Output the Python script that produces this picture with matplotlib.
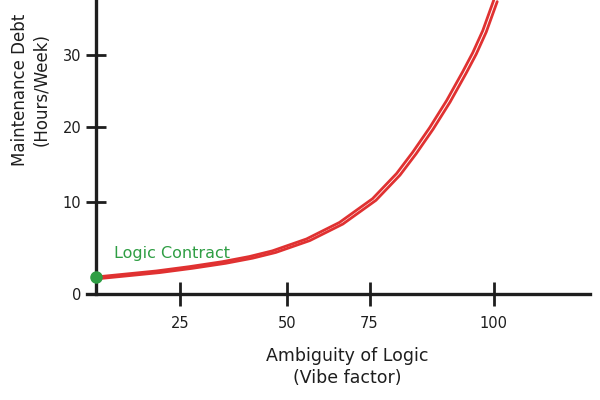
import numpy as np
import matplotlib
matplotlib.use("Agg")
import matplotlib.pyplot as plt
from matplotlib.transforms import ScaledTranslation

# ---- data ----
ambiguity = [0, 7.74, 17.86, 27.1, 34.81, 41.12, 46.5, 55.79, 65.85, 75.6, 80.44,
             83.67, 87.1, 90.52, 93.75, 95.77, 97.78, 100]
debt = [1.85, 2.13, 2.5, 2.97, 3.51, 4.07, 4.69, 5.98, 7.78, 10.44, 13.8,
        16.63, 19.92, 23.69, 27.69, 30.33, 33.39, 37.64]
x_ticks = [25, 50, 75, 100]
y_ticks = [0, 10, 20, 30]
contract_x, contract_y = 0, 1.85
contract_label = "Logic Contract"
x_title = "Ambiguity of Logic\n(Vibe factor)"
y_title = "Maintenance Debt\n(Hours/Week)"

# ---- hand-drawn axis spacing (piecewise linear scales) ----
def make_scale(knots_v, knots_p):
    kv = np.asarray(knots_v, float)
    kp = np.asarray(knots_p, float)

    def fwd(v):
        v = np.asarray(v, float)
        out = np.interp(v, kv, kp)
        lo = (kp[1] - kp[0]) / (kv[1] - kv[0])
        hi = (kp[-1] - kp[-2]) / (kv[-1] - kv[-2])
        out = np.where(v < kv[0], kp[0] + (v - kv[0]) * lo, out)
        out = np.where(v > kv[-1], kp[-1] + (v - kv[-1]) * hi, out)
        return out

    def inv(p):
        p = np.asarray(p, float)
        out = np.interp(p, kp, kv)
        lo = (kv[1] - kv[0]) / (kp[1] - kp[0])
        hi = (kv[-1] - kv[-2]) / (kp[-1] - kp[-2])
        out = np.where(p < kp[0], kv[0] + (p - kp[0]) * lo, out)
        out = np.where(p > kp[-1], kv[-1] + (p - kp[-1]) * hi, out)
        return out

    return fwd, inv

xf, xi = make_scale([0, 25, 50, 75, 100], [0, 84, 191, 273, 397])
yf, yi = make_scale([0, 10, 20, 30], [0, 92, 167, 239])

RED = "#e03131"
GREEN = "#2f9e44"
INK = "#1e1e1e"
plt.rcParams["font.family"] = ["DejaVu Sans"]

fig = plt.figure(figsize=(6, 4), dpi=100)
ax = fig.add_axes([87 / 600, (400 - 294) / 400, (590 - 87) / 600, 294 / 400])
ax.set_xscale("function", functions=(xf, xi))
ax.set_yscale("function", functions=(yf, yi))
ax.set_xlim(float(xi(-9)), float(xi(493)))
ax.set_ylim(0, float(yi(294)))

for s in ["top", "right"]:
    ax.spines[s].set_visible(False)
ax.spines["left"].set_position(("data", 0))
ax.spines["bottom"].set_position(("data", 0))
for s in ["left", "bottom"]:
    ax.spines[s].set_linewidth(2.4)
    ax.spines[s].set_color(INK)

ax.set_xticks(x_ticks)
ax.set_xticklabels([str(t) for t in x_ticks])
ax.set_yticks(y_ticks)
ax.set_yticklabels([str(t) for t in y_ticks])
ax.xaxis.set_minor_locator(matplotlib.ticker.NullLocator())
ax.yaxis.set_minor_locator(matplotlib.ticker.NullLocator())
ax.tick_params(axis="x", direction="inout", length=17, width=2, color=INK,
               pad=7, labelsize=10.5, labelcolor=INK)
ax.tick_params(axis="y", direction="inout", length=15, width=2, color=INK,
               pad=3, labelsize=10.5, labelcolor=INK)

# curve (double stroke, hand-drawn look)
ax.plot(ambiguity, debt, color=RED, lw=2.0, solid_capstyle="round",
        solid_joinstyle="round", zorder=3)
off = ScaledTranslation(3.4 / 100, -1.6 / 100, fig.dpi_scale_trans)
ax.plot(ambiguity, debt, color=RED, lw=2.0, solid_capstyle="round",
        solid_joinstyle="round", zorder=3, transform=ax.transData + off)

ax.plot([contract_x], [contract_y], "o", color=GREEN, ms=8, zorder=5, clip_on=False)
ax.annotate(contract_label, (contract_x, contract_y), xytext=(13, 17),
            textcoords="offset points", color=GREEN, fontsize=11.5,
            ha="left", va="center")

ax.set_xlabel(x_title, fontsize=12.5, color=INK, linespacing=1.3)
ax.set_ylabel(y_title, fontsize=12, color=INK, linespacing=1.3)
ax.xaxis.set_label_coords(0.517, -0.18)
ax.yaxis.set_label_coords(-0.072, 0.694)

fig.savefig("out.png", dpi=100)
